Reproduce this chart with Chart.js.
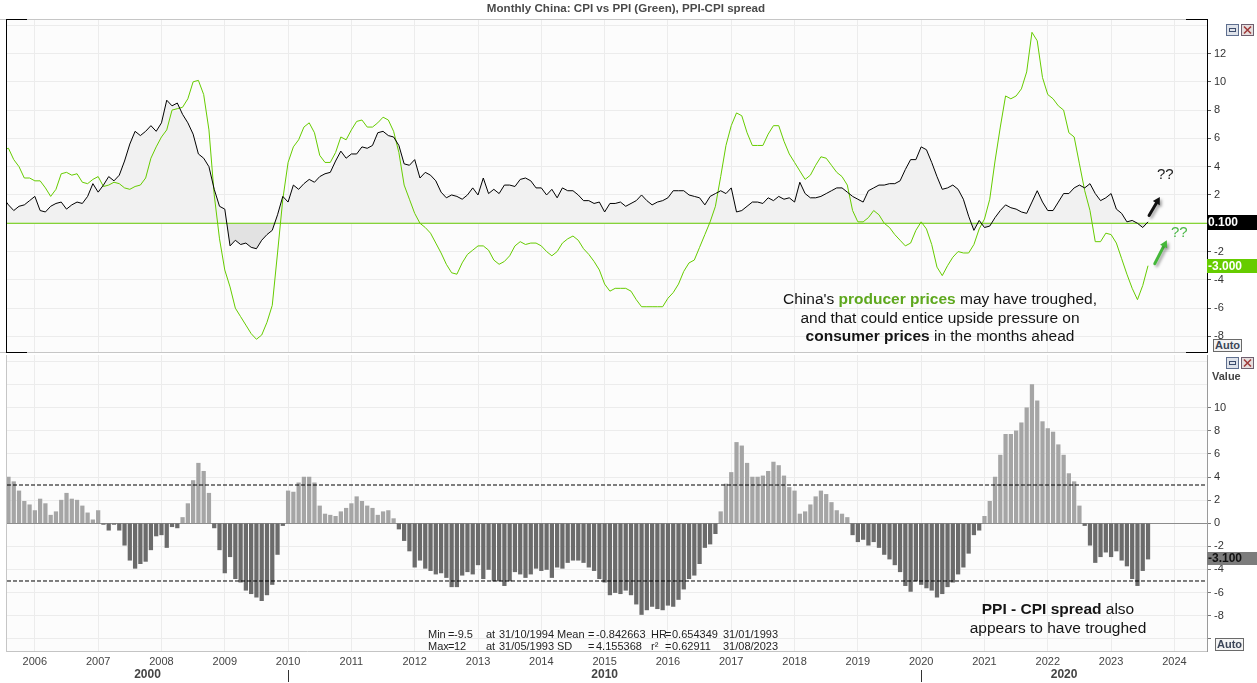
<!DOCTYPE html>
<html>
<head>
<meta charset="utf-8">
<title>Monthly China: CPI vs PPI (Green), PPI-CPI spread</title>
<script src="https://cdn.jsdelivr.net/npm/chart.js@4.4.1/dist/chart.umd.min.js"></script>
<style>
  html, body { margin: 0; padding: 0; background: #fff; }
  body { position: relative; width: 1257px; height: 683px; overflow: hidden; font-family: "Liberation Sans", Arial, sans-serif; }
  canvas { position: absolute; left: 0; }
  #topChart { top: 0; }
  #bottomChart { top: 337px; }
  .abs { position: absolute; white-space: pre; }
  #title { top: 1px; left: 0; width: 1252px; text-align: center; font-weight: bold; font-size: 11.6px; color: #4a4a4a; }
  .note { font-size: 15.5px; color: #151515; text-align: center; }
  .note .green { color: #5ea81e; }
  .stat { font-size: 11px; color: #1e1e1e; line-height: 12px; }
  .qq { font-size: 15px; line-height: 18px; }
  .auto { width: 27px; height: 11px; border: 1px solid #6a6a6a; background: #f4f4f4; font-size: 11px; line-height: 11px; font-weight: bold; color: #3c4658; text-align: center; }
  .value { font-size: 11px; font-weight: bold; color: #444; }
  .ico { position: absolute; width: 13px; height: 12px; }
</style>
</head>
<body>
<canvas id="topChart" width="1257" height="362"></canvas>
<canvas id="bottomChart" width="1257" height="346"></canvas>

<div id="title" class="abs">Monthly China: CPI vs PPI (Green), PPI-CPI spread</div>

<div class="abs note" style="left:740px;top:290px;width:400px;line-height:18.5px">China's <b class="green">producer prices</b> may have troughed,
and that could entice upside pressure on
<b>consumer prices</b> in the months ahead</div>

<div class="abs note" style="left:928px;top:599px;width:260px;line-height:19px"><b>PPI - CPI spread</b> also
appears to have troughed</div>

<div class="abs qq" style="left:1157px;top:165px;color:#222">??</div>
<div class="abs qq" style="left:1171px;top:223px;color:#4cb848">??</div>

<div id="stats"></div>

<div class="abs auto" style="left:1213px;top:339px">Auto</div>
<div class="abs auto" style="left:1215px;top:638px">Auto</div>
<div class="abs value" style="left:1212px;top:370px">Value</div>

<div class="ico" style="left:1226px;top:22px"><svg width="13" height="12"><rect x="0.5" y="0.5" width="12" height="11" fill="#dfe3ea" stroke="#5f6f8f"/><rect x="3.5" y="4.5" width="6" height="3" fill="none" stroke="#3d4d6d"/></svg></div>
<div class="ico" style="left:1241px;top:22px"><svg width="13" height="12"><rect x="0.5" y="0.5" width="12" height="11" fill="#e6dede" stroke="#6f5f6f"/><path d="M3 2.5 L10 9.5 M10 2.5 L3 9.5" stroke="#a03a3a" stroke-width="1.6"/></svg></div>
<div class="ico" style="left:1226px;top:355px"><svg width="13" height="12"><rect x="0.5" y="0.5" width="12" height="11" fill="#dfe3ea" stroke="#5f6f8f"/><rect x="3.5" y="4.5" width="6" height="3" fill="none" stroke="#3d4d6d"/></svg></div>
<div class="ico" style="left:1241px;top:355px"><svg width="13" height="12"><rect x="0.5" y="0.5" width="12" height="11" fill="#e6dede" stroke="#6f5f6f"/><path d="M3 2.5 L10 9.5 M10 2.5 L3 9.5" stroke="#a03a3a" stroke-width="1.6"/></svg></div>

<script>
// ---------------- data ----------------
var startYear = 2005;
var startMonth = 7;   // first observation: Jul 2005, one value per month

var yearTicks = [2006, 2007, 2008, 2009, 2010, 2011, 2012, 2013, 2014, 2015,
                 2016, 2017, 2018, 2019, 2020, 2021, 2022, 2023, 2024];
var decadeTicks = [2000, 2010, 2020];
var topTicks = [-8, -6, -4, -2, 0, 2, 4, 6, 8, 10, 12, 14];
var bottomTicks = [-10, -8, -6, -4, -2, 0, 2, 4, 6, 8, 10, 12, 14];

// China CPI, % y/y
var cpi = [
  1.8, 1.3, 0.9, 1.2, 1.3, 1.6,                                   // 2005 (Jul-Dec)
  1.9, 0.9, 0.8, 1.2, 1.4, 1.5, 1.0, 1.3, 1.5, 1.4, 1.9, 2.8,     // 2006
  2.2, 2.7, 3.3, 3.0, 3.4, 4.4, 5.6, 6.5, 6.2, 6.5, 6.9, 6.5,     // 2007
  7.1, 8.7, 8.3, 8.5, 7.7, 7.1, 6.3, 4.9, 4.6, 4.0, 2.4, 1.2,     // 2008
  1.0, -1.6, -1.2, -1.5, -1.4, -1.7, -1.8, -1.2, -0.8, -0.5, 0.6, 1.9, // 2009
  1.5, 2.7, 2.4, 2.8, 3.1, 2.9, 3.3, 3.5, 3.6, 4.4, 5.1, 4.6,     // 2010
  4.9, 4.9, 5.4, 5.3, 5.5, 6.4, 6.5, 6.2, 6.1, 5.5, 4.2, 4.1,     // 2011
  4.5, 3.2, 3.6, 3.4, 3.0, 2.2, 1.8, 2.0, 1.9, 1.7, 2.0, 2.5,     // 2012
  2.0, 3.2, 2.1, 2.4, 2.1, 2.7, 2.7, 2.6, 3.1, 3.2, 3.0, 2.5,     // 2013
  2.5, 2.0, 2.4, 1.8, 2.5, 2.3, 2.3, 2.0, 1.6, 1.6, 1.4, 1.5,     // 2014
  0.8, 1.4, 1.4, 1.5, 1.2, 1.4, 1.6, 2.0, 1.6, 1.3, 1.5, 1.6,     // 2015
  1.8, 2.3, 2.3, 2.3, 2.0, 1.9, 1.8, 1.3, 1.9, 2.1, 2.3, 2.1,     // 2016
  2.5, 0.8, 0.9, 1.2, 1.5, 1.5, 1.4, 1.8, 1.6, 1.9, 1.7, 1.8,     // 2017
  1.5, 2.9, 2.1, 1.8, 1.8, 1.9, 2.1, 2.3, 2.5, 2.5, 2.2, 1.9,     // 2018
  1.7, 1.5, 2.3, 2.5, 2.7, 2.7, 2.8, 2.8, 3.0, 3.8, 4.5, 4.5,     // 2019
  5.4, 5.2, 4.3, 3.3, 2.4, 2.5, 2.7, 2.4, 1.7, 0.5, -0.5, 0.2,    // 2020
  -0.3, -0.2, 0.4, 0.9, 1.3, 1.1, 1.0, 0.8, 0.7, 1.5, 2.3, 1.5,   // 2021
  0.9, 0.9, 1.5, 2.1, 2.1, 2.5, 2.7, 2.5, 2.8, 2.1, 1.6, 1.8,     // 2022
  2.1, 1.0, 0.7, 0.1, 0.2, 0.0, -0.3, 0.1                         // 2023 (Jan-Aug)
];

// China PPI, % y/y
var ppi = [
  5.2, 5.3, 4.5, 4.0, 3.2, 3.2,                                   // 2005
  3.0, 3.0, 2.5, 1.9, 2.4, 3.5, 3.6, 3.4, 3.5, 2.9, 2.8, 3.1,     // 2006
  3.3, 2.6, 2.7, 2.9, 2.8, 2.5, 2.4, 2.6, 2.7, 3.2, 4.6, 5.4,     // 2007
  6.1, 6.6, 8.0, 8.1, 8.2, 8.8, 10.0, 10.1, 9.1, 6.6, 2.0, -1.1,  // 2008
  -3.3, -4.5, -6.0, -6.6, -7.2, -7.8, -8.2, -7.9, -7.0, -5.8, -2.1, 1.7, // 2009
  4.3, 5.4, 5.9, 6.8, 7.1, 6.4, 4.8, 4.3, 4.3, 5.0, 6.1, 5.9,     // 2010
  6.6, 7.2, 7.3, 6.8, 6.8, 7.1, 7.5, 7.3, 6.5, 5.0, 2.7, 1.7,     // 2011
  0.7, 0.0, -0.3, -0.7, -1.4, -2.1, -2.9, -3.5, -3.6, -2.8, -2.2, -1.9, // 2012
  -1.6, -1.6, -1.9, -2.6, -2.9, -2.7, -2.3, -1.6, -1.3, -1.5, -1.4, -1.4, // 2013
  -1.6, -2.0, -2.3, -2.0, -1.4, -1.1, -0.9, -1.2, -1.8, -2.2, -2.7, -3.3, // 2014
  -4.3, -4.8, -4.6, -4.6, -4.6, -4.8, -5.4, -5.9, -5.9, -5.9, -5.9, -5.9, // 2015
  -5.3, -4.9, -4.3, -3.4, -2.8, -2.6, -1.7, -0.8, 0.1, 1.2, 3.3, 5.5,    // 2016
  6.9, 7.8, 7.6, 6.4, 5.5, 5.5, 5.5, 6.3, 6.9, 6.9, 5.8, 4.9,     // 2017
  4.3, 3.7, 3.1, 3.4, 4.1, 4.7, 4.6, 4.1, 3.6, 3.3, 2.7, 0.9,     // 2018
  0.1, 0.1, 0.4, 0.9, 0.6, 0.0, -0.3, -0.8, -1.2, -1.6, -1.4, -0.5, // 2019
  0.1, -0.4, -1.5, -3.1, -3.7, -3.0, -2.4, -2.0, -2.1, -2.1, -1.5, -0.4, // 2020
  0.3, 1.7, 4.4, 6.8, 9.0, 8.8, 9.0, 9.5, 10.7, 13.5, 12.9, 10.3, // 2021
  9.1, 8.8, 8.3, 8.0, 6.4, 6.1, 4.2, 2.3, 0.9, -1.3, -1.3, -0.7,  // 2022
  -0.8, -1.4, -2.5, -3.6, -4.6, -5.4, -4.4, -3.0                  // 2023
];

// PPI - CPI spread, percentage points
var spread = [
  3.4, 4.0, 3.6, 2.8, 1.9, 1.6,                                   // 2005
  1.1, 2.1, 1.7, 0.7, 1.0, 2.0, 2.6, 2.1, 2.0, 1.5, 0.9, 0.3,     // 2006
  1.1, -0.1, -0.6, -0.1, -0.6, -1.9, -3.2, -3.9, -3.5, -3.3, -2.3, -1.1, // 2007
  -1.0, -2.1, -0.3, -0.4, 0.5, 1.7, 3.7, 5.2, 4.5, 2.6, -0.4, -2.3,     // 2008
  -4.3, -2.9, -4.8, -5.1, -5.8, -6.1, -6.4, -6.7, -6.2, -5.3, -2.7, -0.2, // 2009
  2.8, 2.7, 3.5, 4.0, 4.0, 3.5, 1.5, 0.8, 0.7, 0.6, 1.0, 1.3,     // 2010
  1.7, 2.3, 1.9, 1.5, 1.3, 0.7, 1.0, 1.1, 0.4, -0.5, -1.5, -2.4,  // 2011
  -3.8, -3.2, -3.9, -4.1, -4.4, -4.3, -4.7, -5.5, -5.5, -4.5, -4.2, -4.4, // 2012
  -3.6, -4.8, -4.0, -5.0, -5.0, -5.4, -5.0, -4.2, -4.4, -4.7, -4.4, -3.9, // 2013
  -4.1, -4.0, -4.7, -3.8, -3.9, -3.4, -3.2, -3.2, -3.4, -3.8, -4.1, -4.8, // 2014
  -5.1, -6.2, -6.0, -6.1, -5.8, -6.2, -7.0, -7.9, -7.5, -7.2, -7.4, -7.5, // 2015
  -7.1, -7.2, -6.6, -5.7, -4.8, -4.5, -3.5, -2.1, -1.8, -0.9, 1.0, 3.4,   // 2016
  4.4, 7.0, 6.7, 5.2, 4.0, 4.0, 4.1, 4.5, 5.3, 5.0, 4.1, 3.1,     // 2017
  2.8, 0.8, 1.0, 1.6, 2.3, 2.8, 2.5, 1.8, 1.1, 0.8, 0.5, -1.0,    // 2018
  -1.6, -1.4, -1.9, -1.6, -2.1, -2.7, -3.1, -3.6, -4.2, -5.4, -5.9, -5.0, // 2019
  -5.3, -5.6, -5.8, -6.4, -6.1, -5.5, -5.1, -4.4, -3.8, -2.6, -1.0, -0.6, // 2020
  0.6, 1.9, 4.0, 5.9, 7.7, 7.7, 8.0, 8.7, 10.0, 12.0, 10.6, 8.8,  // 2021
  8.2, 7.9, 6.8, 5.9, 4.3, 3.6, 1.5, -0.2, -1.9, -3.4, -2.9, -2.5, // 2022
  -2.9, -2.4, -3.2, -3.7, -4.8, -5.4, -4.1, -3.1                  // 2023
];

// statistics of the spread series (shown in the chart text)
var spreadMean = -0.842663;
var spreadSD = 4.155368;

// statistics box, one list of [left px, text] per line
var statLines = [
  [[428, 'Min'], [448, '='], [454, '-9.5'], [486, 'at'], [499, '31/10/1994'], [557, 'Mean'], [588, '='],
   [596, '-0.842663'], [651, 'HR'], [665, '='], [672, '0.654349'], [723, '31/01/1993']],
  [[428, 'Max'], [448, '='], [454, '12'], [486, 'at'], [499, '31/05/1993'], [557, 'SD'], [588, '='],
   [596, '4.155368'], [651, 'r²'], [665, '='], [672, '0.62911'], [723, '31/08/2023']]
];
var statsBox = document.getElementById('stats');
statLines.forEach(function (line, row) {
  line.forEach(function (tok) {
    var d = document.createElement('div');
    d.className = 'abs stat';
    d.style.left = tok[0] + 'px';
    d.style.top = (628 + row * 11.6) + 'px';
    d.textContent = tok[1];
    statsBox.appendChild(d);
  });
});

// ---------------- helpers ----------------
var months = cpi.map(function (v, i) { return startYear + (startMonth - 1 + i) / 12; });
var xMin = 2005.56, xMax = 2024.515;

function points(values) {
  return values.map(function (v, i) { return { x: months[i], y: v }; });
}
function flat(v) {
  return [{ x: xMin, y: v }, { x: xMax, y: v }];
}
function setTicks(list) {
  return function (scale) { scale.ticks = list.map(function (v) { return { value: v }; }); };
}

var panelBg = {
  id: 'panelBg',
  beforeDraw: function (chart) {
    var a = chart.chartArea, ctx = chart.ctx;
    ctx.save();
    ctx.fillStyle = '#fcfcfc';
    ctx.fillRect(a.left, a.top, a.right - a.left, a.bottom - a.top);
    ctx.restore();
  }
};

var topFrame = {
  id: 'topFrame',
  afterDraw: function (chart) {
    var a = chart.chartArea, ctx = chart.ctx;
    ctx.save();
    ctx.fillStyle = '#c6c6c6';
    ctx.fillRect(0, a.top, a.right - 20, 1);
    ctx.fillRect(0, a.bottom, a.right - 20, 1);
    ctx.fillStyle = '#000';
    ctx.fillRect(a.left - 1, a.top, 1, a.bottom - a.top + 1);
    ctx.fillRect(a.left - 1, a.top, 21, 1);
    ctx.fillRect(a.left - 1, a.bottom, 21, 1);
    ctx.fillRect(a.right - 21, a.top, 21, 1);
    ctx.fillRect(a.right - 21, a.bottom, 21, 1);
    ctx.restore();
  }
};

var bottomFrame = {
  id: 'bottomFrame',
  afterDraw: function (chart) {
    var a = chart.chartArea, ctx = chart.ctx;
    ctx.save();
    ctx.fillStyle = '#c6c6c6';
    ctx.fillRect(a.left - 1, a.top, 1, a.bottom - a.top + 1);
    ctx.restore();
  }
};

// last-value boxes on the right axis
function valueBoxes(items) {
  return {
    id: 'valueBoxes',
    afterDraw: function (chart) {
      var ctx = chart.ctx, a = chart.chartArea, y = chart.scales.y;
      ctx.save();
      items.forEach(function (it) {
        var py = Math.round(y.getPixelForValue(it.value));
        ctx.fillStyle = it.bg;
        ctx.fillRect(a.right, py - 7, chart.width - a.right, it.h);
        ctx.fillStyle = it.fg;
        ctx.font = 'bold 12px "Liberation Sans", Arial, sans-serif';
        ctx.textAlign = 'left';
        ctx.textBaseline = 'middle';
        ctx.fillText(it.value.toFixed(3), a.right + 1, py + it.h / 2 - 6.5);
      });
      ctx.restore();
    }
  };
}

// hand-drawn arrows, placed in data units
var arrows = [
  { from: [2023.60, 0.55], to: [2023.77, 1.85], color: '#111' },
  { from: [2023.69, -2.85], to: [2023.88, -1.2], color: '#45b83a' }
];
var arrowPlugin = {
  id: 'arrows',
  afterDatasetsDraw: function (chart) {
    var ctx = chart.ctx, sx = chart.scales.x, sy = chart.scales.y;
    arrows.forEach(function (a) {
      var x0 = sx.getPixelForValue(a.from[0]), y0 = sy.getPixelForValue(a.from[1]);
      var x1 = sx.getPixelForValue(a.to[0]), y1 = sy.getPixelForValue(a.to[1]);
      var ang = Math.atan2(y1 - y0, x1 - x0), hl = 7, hw = 4;
      var bx = x1 - hl * Math.cos(ang), by = y1 - hl * Math.sin(ang);
      ctx.save();
      ctx.shadowColor = 'rgba(0,0,0,0.35)';
      ctx.shadowBlur = 3;
      ctx.shadowOffsetX = 2;
      ctx.shadowOffsetY = 2;
      ctx.strokeStyle = a.color;
      ctx.fillStyle = a.color;
      ctx.lineWidth = 3;
      ctx.lineCap = 'round';
      ctx.beginPath();
      ctx.moveTo(x0, y0);
      ctx.lineTo(bx, by);
      ctx.stroke();
      ctx.beginPath();
      ctx.moveTo(x1, y1);
      ctx.lineTo(bx + hw * Math.sin(ang), by - hw * Math.cos(ang));
      ctx.lineTo(bx - hw * Math.sin(ang), by + hw * Math.cos(ang));
      ctx.closePath();
      ctx.fill();
      ctx.restore();
    });
  }
};

// second row of the date axis: decades
var decadeAxis = {
  id: 'decadeAxis',
  afterDraw: function (chart) {
    var ctx = chart.ctx, a = chart.chartArea, x = chart.scales.x;
    ctx.save();
    ctx.font = 'bold 12px "Liberation Sans", Arial, sans-serif';
    ctx.fillStyle = '#444';
    ctx.textAlign = 'center';
    ctx.textBaseline = 'middle';
    ctx.strokeStyle = '#333';
    ctx.lineWidth = 1;
    decadeTicks.forEach(function (d) {
      var lo = Math.max(d, x.min), hi = Math.min(d + 10, x.max);
      if (hi <= lo) return;
      var p0 = x.getPixelForValue(lo), p1 = x.getPixelForValue(hi);
      ctx.fillText(String(d), (p0 + p1) / 2, a.bottom + 24);
      if (d > x.min) {
        var px = Math.round(x.getPixelForValue(d)) + 0.5;
        ctx.beginPath();
        ctx.moveTo(px, a.bottom + 19);
        ctx.lineTo(px, a.bottom + 31);
        ctx.stroke();
      }
    });
    ctx.restore();
  }
};

var axisFont = { family: '"Liberation Sans", Arial, sans-serif', size: 11 };
var gridGrey = '#ececec';

// ---------------- top panel: CPI vs PPI ----------------
new Chart(document.getElementById('topChart'), {
  type: 'line',
  data: {
    datasets: [
      { label: 'CPI', data: points(cpi), borderColor: '#000', borderWidth: 1, pointRadius: 0, tension: 0,
        fill: { target: { value: 0 }, above: '#f1f1f1', below: '#e2e2e2' }, order: 1 },
      { label: 'PPI', data: points(ppi), borderColor: '#66cc00', borderWidth: 1, pointRadius: 0, tension: 0,
        fill: false, order: 2 },
      { label: 'zero', data: flat(0), borderColor: '#66cc00', borderWidth: 1, pointRadius: 0, fill: false, order: 3 }
    ]
  },
  options: {
    responsive: false,
    animation: false,
    events: [],
    layout: { padding: { left: 7, right: 0, top: 19, bottom: 10 } },
    plugins: {
      legend: { display: false },
      tooltip: { enabled: false },
      filler: { drawTime: 'beforeDatasetsDraw' }
    },
    scales: {
      x: {
        type: 'linear', min: xMin, max: xMax,
        afterBuildTicks: setTicks(yearTicks),
        afterFit: function (s) { s.height = 0; },
        ticks: { display: false },
        grid: { color: gridGrey, drawTicks: false },
        border: { display: false }
      },
      y: {
        position: 'right', min: -9.1, max: 14.44,
        afterBuildTicks: setTicks(topTicks),
        afterFit: function (s) { s.width = 50; },
        ticks: {
          autoSkip: false, padding: 3, color: '#333', font: axisFont,
          callback: function (v) { return (v === 0 || v === 14) ? '' : String(v); }
        },
        grid: {
          color: gridGrey, tickLength: 4,
          tickColor: function (c) { return (c.tick && (c.tick.value === 14 || c.tick.value === 0)) ? 'rgba(0,0,0,0)' : '#555'; }
        },
        border: { color: '#000' }
      }
    }
  },
  plugins: [panelBg, topFrame, arrowPlugin, valueBoxes([
    { value: cpi[cpi.length - 1], bg: '#000', fg: '#fff', h: 15 },
    { value: ppi[ppi.length - 1], bg: '#66cc00', fg: '#fff', h: 14 }
  ])]
});

// ---------------- bottom panel: PPI - CPI spread ----------------
new Chart(document.getElementById('bottomChart'), {
  type: 'bar',
  data: {
    datasets: [
      { type: 'line', label: 'mean + sd', data: flat(spreadMean + spreadSD), borderColor: '#000', borderWidth: 1,
        borderDash: [4, 2], pointRadius: 0, fill: false, order: 1 },
      { type: 'line', label: 'mean - sd', data: flat(spreadMean - spreadSD), borderColor: '#000', borderWidth: 1,
        borderDash: [4, 2], pointRadius: 0, fill: false, order: 1 },
      { type: 'bar', label: 'PPI - CPI', data: points(spread), barThickness: 3.6, order: 2,
        backgroundColor: function (c) { return (c.raw && c.raw.y < 0) ? '#6b6b6b' : '#a5a5a5'; } }
    ]
  },
  options: {
    responsive: false,
    animation: false,
    events: [],
    layout: { padding: { left: 7, right: 0, top: 18, bottom: 0 } },
    plugins: { legend: { display: false }, tooltip: { enabled: false } },
    scales: {
      x: {
        type: 'linear', min: xMin, max: xMax, offset: false,
        afterBuildTicks: setTicks(yearTicks),
        afterFit: function (s) { s.height = 32; },
        ticks: { autoSkip: false, maxRotation: 0, padding: 4, color: '#444', font: axisFont,
                 callback: function (v) { return String(v); } },
        grid: { color: gridGrey, drawTicks: false, offset: false },
        border: { color: '#c4c4c4' }
      },
      y: {
        position: 'right', min: -11.06, max: 14.57,
        afterBuildTicks: setTicks(bottomTicks),
        afterFit: function (s) { s.width = 50; },
        ticks: {
          autoSkip: false, padding: 3, color: '#333', font: axisFont,
          callback: function (v) { return (v === 14 || v === 12 || v === -10) ? '' : String(v); }
        },
        grid: {
          tickLength: 4,
          color: function (c) { return (c.tick && c.tick.value === 0) ? '#8c8c8c' : gridGrey; },
          tickColor: function (c) { return (c.tick && (c.tick.value === 14 || c.tick.value === 12)) ? 'rgba(0,0,0,0)' : '#777'; }
        },
        border: { color: '#9a9a9a' }
      }
    }
  },
  plugins: [panelBg, bottomFrame, decadeAxis, valueBoxes([
    { value: spread[spread.length - 1], bg: '#7c7c7c', fg: '#111', h: 13 }
  ])]
});
</script>
</body>
</html>
